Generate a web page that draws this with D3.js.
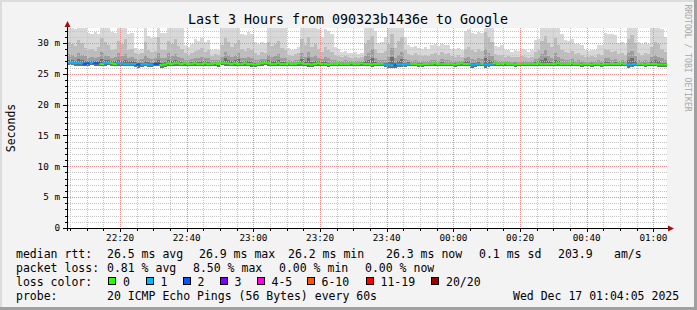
<!DOCTYPE html>
<html>
<head>
<meta charset="utf-8">
<script src="https://cdn.jsdelivr.net/npm/d3@7"></script>
<style>
  body { margin: 0; background: #f3f3f3; }
  text { font-family: "DejaVu Sans Mono", monospace; }
</style>
</head>
<body>
<div id="chart"></div>
<script>
// one value per 60 s step, 180 steps = last 3 hours (ms)
const median = [
  26.8, 26.8, 26.7, 26.8, 26.7, 26.6, 26.7, 26.8, 26.7, 26.7,
  26.6, 26.7, 26.8, 26.7, 26.6, 26.7, 26.7, 26.6, 26.6, 26.6,
  26.6, 26.5, 26.5, 26.6, 26.5, 26.5, 26.6, 26.6, 26.4, 26.5,
  26.7, 26.6, 26.7, 26.7, 26.6, 26.7, 26.6, 26.6, 26.7, 26.6,
  26.6, 26.7, 26.6, 26.6, 26.7, 26.6, 26.8, 26.7, 26.7, 26.6,
  26.7, 26.6, 26.6, 26.7, 26.6, 26.6, 26.5, 26.6, 26.7, 26.8,
  26.7, 26.6, 26.6, 26.7, 26.6, 26.6, 26.7, 26.6, 26.6, 26.7,
  26.7, 26.6, 26.6, 26.5, 26.6, 26.7, 26.6, 26.6, 26.5, 26.6,
  26.6, 26.7, 26.6, 26.6, 26.6, 26.7, 26.6, 26.6, 26.7, 26.6,
  26.6, 26.5, 26.6, 26.6, 26.6, 26.5, 26.5, 26.4, 26.4, 26.5,
  26.5, 26.5, 26.6, 26.6, 26.6, 26.5, 26.5, 26.6, 26.6, 26.6,
  26.7, 26.6, 26.6, 26.6, 26.6, 26.6, 26.5, 26.6, 26.7, 26.6,
  26.6, 26.5, 26.5, 26.6, 26.6, 26.5, 26.5, 26.6, 26.7, 26.6,
  26.6, 26.7, 26.6, 26.6, 26.5, 26.6, 26.6, 26.6, 26.6, 26.6,
  26.6, 26.7, 26.6, 26.6, 26.6, 26.6, 26.6, 26.7, 26.6, 26.6,
  26.6, 26.7, 26.6, 26.6, 26.5, 26.6, 26.6, 26.5, 26.6, 26.6,
  26.5, 26.6, 26.6, 26.6, 26.6, 26.6, 26.7, 26.6, 26.5, 26.5,
  26.6, 26.6, 26.6, 26.5, 26.6, 26.6, 26.6, 26.5, 26.5, 26.5
];

// lost pings (of 20) per step
const loss = [
  1, 1, 1, 1, 1, 2, 2, 1, 2, 2,
  0, 1, 1, 0, 0, 1, 1, 1, 1, 1,
  1, 2, 1, 1, 1, 1, 2, 2, 0, 0,
  0, 0, 0, 0, 0, 0, 0, 0, 0, 0,
  0, 0, 0, 0, 0, 0, 0, 0, 0, 0,
  0, 0, 0, 0, 0, 0, 0, 0, 0, 0,
  0, 0, 0, 0, 0, 0, 0, 0, 0, 0,
  0, 0, 0, 0, 0, 0, 0, 0, 0, 0,
  0, 0, 0, 0, 0, 0, 0, 0, 0, 0,
  0, 0, 0, 0, 0, 1, 1, 1, 2, 1,
  1, 1, 1, 0, 0, 0, 0, 0, 0, 0,
  0, 0, 0, 0, 0, 0, 0, 0, 0, 0,
  0, 1, 1, 1, 0, 1, 1, 1, 0, 0,
  0, 0, 0, 0, 0, 0, 0, 0, 0, 0,
  0, 0, 0, 0, 0, 0, 0, 0, 0, 0,
  0, 0, 0, 0, 0, 0, 0, 0, 0, 0,
  0, 0, 0, 0, 0, 0, 0, 0, 1, 1,
  1, 0, 0, 0, 0, 0, 0, 0, 0, 0
];

// smoke: spread of the sorted pings per step
const smokeMin = [
  26.4, 26.4, 26.3, 26.3, 26.2, 26.2, 26.3, 26.4, 26.3, 26.2,
  26.2, 26.3, 26.4, 26.3, 26.2, 26.3, 26.3, 26.2, 26.2, 26.2,
  26.1, 26.0, 26.1, 26.2, 26.1, 26.1, 26.2, 26.2, 26.0, 26.1,
  26.3, 26.2, 26.3, 26.2, 26.2, 26.3, 26.2, 26.2, 26.3, 26.2,
  26.2, 26.3, 26.2, 26.2, 26.3, 26.1, 26.4, 26.3, 26.2, 26.2,
  26.3, 26.2, 26.2, 26.3, 26.2, 26.1, 26.1, 26.2, 26.3, 26.4,
  26.3, 26.2, 26.2, 26.3, 26.2, 26.2, 26.3, 26.2, 26.2, 26.3,
  26.3, 26.2, 26.1, 26.1, 26.2, 26.3, 26.2, 26.2, 26.1, 26.2,
  26.2, 26.3, 26.2, 26.2, 26.2, 26.3, 26.2, 26.2, 26.3, 26.2,
  26.2, 26.1, 26.2, 26.2, 26.2, 26.1, 26.0, 26.0, 26.0, 26.1,
  26.1, 26.1, 26.2, 26.2, 26.2, 26.1, 26.1, 26.2, 26.2, 26.2,
  26.3, 26.2, 26.2, 26.2, 26.2, 26.2, 26.1, 26.2, 26.3, 26.2,
  26.2, 26.0, 26.1, 26.2, 26.2, 26.0, 26.1, 26.2, 26.3, 26.2,
  26.2, 26.3, 26.2, 26.2, 26.1, 26.2, 26.2, 26.2, 26.2, 26.2,
  26.2, 26.3, 26.2, 26.2, 26.2, 26.2, 26.2, 26.3, 26.2, 26.2,
  26.2, 26.3, 26.2, 26.2, 26.1, 26.2, 26.2, 26.1, 26.2, 26.2,
  26.1, 26.2, 26.2, 26.2, 26.2, 26.2, 26.3, 26.2, 26.0, 26.1,
  26.2, 26.2, 26.2, 26.1, 26.2, 26.2, 26.2, 26.1, 26.1, 26.1
];

const smokeP60 = [
  27.3, 27.2, 27.1, 27.4, 27.2, 27.0, 27.0, 27.1, 27.0, 27.1,
  27.4, 27.2, 27.2, 27.0, 27.0, 27.3, 27.1, 27.2, 27.0, 27.0,
  26.9, 26.8, 26.8, 27.1, 26.9, 26.8, 26.9, 27.3, 26.8, 26.9,
  27.3, 27.1, 27.2, 27.1, 26.9, 26.9, 26.8, 26.9, 27.0, 26.9,
  27.0, 27.0, 26.9, 26.8, 26.9, 26.8, 27.1, 27.5, 27.2, 27.0,
  27.2, 27.4, 26.9, 27.0, 27.0, 26.9, 26.8, 26.8, 27.0, 27.1,
  27.3, 27.0, 27.1, 27.3, 26.9, 26.9, 26.9, 26.8, 26.8, 26.9,
  27.4, 27.0, 27.5, 26.9, 27.1, 27.0, 26.9, 27.0, 26.8, 26.8,
  26.8, 26.9, 26.8, 26.8, 26.8, 26.9, 26.8, 26.8, 26.9, 27.1,
  27.3, 27.6, 26.9, 26.8, 26.8, 26.8, 26.9, 27.7, 26.8, 27.0,
  27.4, 26.8, 26.9, 26.8, 26.8, 26.7, 26.7, 26.8, 26.8, 26.8,
  26.9, 26.8, 26.9, 26.8, 26.8, 26.8, 26.7, 26.8, 26.9, 27.0,
  27.1, 26.8, 26.8, 26.9, 26.8, 27.6, 27.2, 27.0, 26.9, 26.8,
  26.8, 26.9, 26.8, 26.8, 26.7, 26.8, 26.8, 26.8, 26.8, 26.8,
  26.9, 27.0, 27.2, 27.5, 27.0, 26.9, 27.3, 27.0, 26.8, 26.8,
  26.8, 26.9, 26.8, 26.8, 26.7, 26.8, 26.8, 26.7, 26.8, 26.8,
  26.7, 27.0, 26.9, 26.8, 26.9, 26.8, 26.9, 26.8, 27.2, 27.5,
  27.1, 26.8, 26.8, 26.7, 26.8, 27.0, 27.2, 27.0, 26.8, 26.7
];

const smokeP75 = [
  28.2, 28.0, 27.8, 28.4, 28.1, 27.9, 27.6, 27.7, 27.5, 27.8,
  28.5, 28.1, 27.9, 27.6, 27.7, 28.3, 27.9, 28.2, 27.6, 27.7,
  27.4, 27.3, 27.4, 28.0, 27.6, 27.4, 27.5, 28.4, 27.5, 27.6,
  28.3, 27.9, 28.2, 27.8, 27.6, 27.3, 27.2, 27.4, 27.5, 27.6,
  27.7, 27.5, 27.6, 27.2, 27.3, 27.2, 27.8, 28.6, 28.1, 27.7,
  28.0, 28.4, 27.6, 27.5, 27.7, 27.5, 27.3, 27.2, 27.4, 27.4,
  28.1, 27.8, 27.9, 28.2, 27.6, 27.5, 27.2, 27.1, 27.3, 27.3,
  28.4, 27.8, 28.6, 27.7, 28.0, 27.5, 27.4, 27.7, 27.5, 27.3,
  27.2, 27.1, 27.1, 27.2, 27.0, 27.0, 27.1, 27.0, 27.1, 27.9,
  28.3, 29.0, 27.6, 27.2, 27.3, 27.3, 27.8, 29.2, 27.6, 28.1,
  28.6, 27.4, 27.2, 27.1, 27.2, 27.1, 27.0, 27.1, 27.0, 27.2,
  27.3, 27.1, 27.4, 27.2, 27.2, 27.0, 27.0, 27.1, 27.0, 27.6,
  27.8, 27.4, 27.3, 27.6, 27.4, 29.0, 28.4, 27.9, 27.2, 27.1,
  27.1, 27.0, 27.0, 26.9, 27.0, 26.9, 27.1, 27.0, 26.9, 27.0,
  27.4, 27.5, 28.2, 28.8, 27.9, 27.6, 28.3, 27.8, 27.4, 27.2,
  27.2, 27.4, 27.1, 27.2, 27.0, 26.9, 26.9, 27.0, 27.0, 27.2,
  27.1, 27.6, 27.5, 27.3, 27.4, 27.1, 27.2, 27.1, 28.3, 28.7,
  27.9, 27.2, 27.1, 27.2, 27.1, 27.7, 28.0, 27.8, 27.5, 27.3
];

const smokeP90 = [
  30.2, 29.8, 29.5, 30.5, 30.0, 29.2, 28.9, 29.0, 28.7, 29.3,
  30.8, 30.1, 29.6, 28.8, 29.0, 30.4, 29.9, 30.6, 28.9, 29.0,
  28.4, 28.2, 28.3, 30.1, 28.9, 28.6, 28.7, 30.9, 28.8, 28.9,
  30.3, 29.8, 30.7, 29.5, 29.1, 28.3, 28.1, 28.4, 28.7, 28.9,
  29.2, 28.6, 28.8, 27.9, 28.2, 28.0, 29.6, 30.8, 30.2, 29.4,
  29.9, 30.5, 29.0, 28.7, 29.2, 28.8, 28.3, 28.1, 28.5, 28.4,
  30.1, 29.5, 29.8, 30.4, 29.2, 28.9, 28.1, 27.9, 28.2, 28.3,
  30.6, 29.7, 30.9, 29.3, 29.9, 29.0, 28.6, 29.4, 28.9, 28.5,
  28.1, 27.9, 27.8, 27.9, 27.7, 27.6, 27.8, 27.6, 27.7, 29.8,
  30.5, 31.2, 29.0, 28.3, 28.4, 28.7, 29.9, 31.5, 29.2, 30.4,
  31.0, 28.8, 28.2, 28.1, 28.3, 28.0, 27.9, 28.1, 27.9, 28.2,
  28.4, 28.1, 28.5, 28.2, 28.3, 27.9, 27.8, 28.0, 27.8, 29.0,
  29.4, 28.8, 28.6, 29.1, 28.7, 31.8, 31.0, 30.2, 28.2, 28.0,
  28.1, 27.8, 27.9, 27.7, 27.8, 27.7, 27.9, 27.8, 27.6, 27.8,
  28.6, 28.8, 30.4, 31.1, 30.0, 29.4, 30.8, 29.6, 28.9, 28.5,
  28.4, 28.7, 28.2, 28.3, 28.1, 27.8, 27.7, 27.9, 27.8, 28.2,
  28.1, 29.0, 28.8, 28.6, 28.7, 28.2, 28.3, 28.1, 30.6, 31.3,
  30.0, 28.4, 28.1, 28.3, 28.2, 29.4, 30.2, 29.8, 29.1, 28.5
];

const smokeMax = [
  33.0, 33.0, 32.2, 33.0, 33.0, 33.0, 31.6, 31.4, 31.8, 31.5,
  33.0, 33.0, 32.5, 31.8, 31.6, 33.0, 33.0, 33.0, 31.5, 31.7,
  29.2, 28.8, 29.0, 33.0, 31.2, 30.8, 31.0, 33.0, 31.7, 31.6,
  33.0, 33.0, 33.0, 32.4, 33.0, 29.6, 29.3, 29.8, 30.6, 30.4,
  30.8, 30.2, 30.5, 28.9, 29.1, 28.8, 33.0, 33.0, 33.0, 32.6,
  33.0, 33.0, 31.5, 31.3, 31.8, 31.4, 30.1, 29.8, 30.2, 30.0,
  33.0, 33.0, 32.8, 33.0, 33.0, 32.4, 29.2, 28.8, 29.0, 29.3,
  33.0, 33.0, 33.0, 32.5, 33.0, 32.2, 31.0, 32.3, 32.0, 31.5,
  29.3, 29.0, 28.6, 28.7, 28.4, 28.3, 28.5, 28.2, 28.4, 33.0,
  33.0, 33.0, 32.0, 30.0, 30.2, 31.0, 33.0, 33.0, 32.5, 33.0,
  33.0, 31.0, 29.6, 29.4, 29.5, 29.2, 29.0, 29.3, 29.1, 29.7,
  29.8, 29.5, 29.9, 29.6, 29.7, 29.1, 29.0, 29.2, 28.9, 32.0,
  32.2, 31.7, 31.5, 31.8, 31.6, 33.0, 33.0, 33.0, 29.5, 29.4,
  29.6, 28.8, 28.9, 28.6, 28.8, 28.7, 29.0, 28.8, 28.6, 28.9,
  30.5, 30.6, 33.0, 33.0, 33.0, 32.6, 33.0, 33.0, 31.5, 30.5,
  30.4, 30.6, 29.8, 29.9, 29.7, 28.8, 28.7, 28.9, 28.8, 29.7,
  29.6, 31.6, 31.4, 31.5, 31.3, 30.0, 30.1, 29.9, 33.0, 33.0,
  32.8, 30.2, 29.8, 30.1, 29.9, 32.5, 33.0, 33.0, 32.3, 31.0
];

const lossLabels = ["0", "1", "2", "3", "4-5", "6-10", "11-19", "20/20"];
const lossUpper  = [0, 1, 2, 3, 5, 10, 19, 20];
const lossColors = ["#26ff00", "#00b8ff", "#0059ff", "#7e00ff", "#ff00ea", "#ff5500", "#ff0000", "#a10000"];

const yTicks = [0, 5, 10, 15, 20, 25, 30];

// time range of the graph
const startTime = new Date(2025, 11, 16, 22, 4, 5);
const endTime = new Date(2025, 11, 17, 1, 4, 5);
const stepSeconds = 60;

document.addEventListener('DOMContentLoaded', () => {
    const width = 697, height = 310;
    const plot = { left: 67, right: 667, top: 28, bottom: 228 };

    const svg = d3.select("#chart").append("svg")
        .attr("width", width)
        .attr("height", height)
        .style("display", "block");

    // background and shaded border
    svg.append("rect").attr("width", width).attr("height", height).attr("fill", "#f3f3f3");
    svg.append("rect").attr("x", 0).attr("y", 0).attr("width", width).attr("height", 2).attr("fill", "#dcdcdc");
    svg.append("rect").attr("x", 0).attr("y", 0).attr("width", 2).attr("height", height).attr("fill", "#dcdcdc");
    svg.append("rect").attr("x", 0).attr("y", height - 3).attr("width", width).attr("height", 3).attr("fill", "#a0a0a0");
    svg.append("rect").attr("x", width - 3).attr("y", 0).attr("width", 3).attr("height", height).attr("fill", "#a0a0a0");

    const x = d3.scaleTime().domain([startTime, endTime]).range([plot.left, plot.right]);
    const y = d3.scaleLinear().domain([0, 32.43]).range([plot.bottom, plot.top]);

    const defs = svg.append("defs");
    defs.append("clipPath").attr("id", "plotclip")
        .append("rect")
        .attr("x", plot.left).attr("y", plot.top)
        .attr("width", plot.right - plot.left).attr("height", plot.bottom - plot.top);

    // 1px on / 1px off dot patterns for the grid
    const minorColor = "#c4c4c4", majorColor = "#ef8a8a";
    [["h", 2, 1], ["v", 1, 2]].forEach(([dir, pw, ph]) => {
        [["minor", minorColor], ["major", majorColor]].forEach(([kind, color]) => {
            defs.append("pattern")
                .attr("id", `dots-${dir}-${kind}`)
                .attr("patternUnits", "userSpaceOnUse")
                .attr("width", pw).attr("height", ph)
                .append("rect").attr("width", 1).attr("height", 1).attr("fill", color);
        });
    });

    // canvas
    svg.append("rect")
        .attr("x", plot.left).attr("y", plot.top)
        .attr("width", plot.right - plot.left).attr("height", plot.bottom - plot.top)
        .attr("fill", "#ffffff");

    const t = i => new Date(startTime.getTime() + i * stepSeconds * 1000);

    // smoke layers, outermost (lightest) first
    const layers = [
        { lo: smokeMin, hi: smokeMax, color: "#d8d8d8" },
        { lo: smokeMin, hi: smokeP90, color: "#bcbcbc" },
        { lo: smokeMin, hi: smokeP75, color: "#9d9d9d" },
        { lo: smokeMin, hi: smokeP60, color: "#6e6e6e" }
    ];

    const smoke = svg.append("g").attr("clip-path", "url(#plotclip)");
    layers.forEach(layer => {
        smoke.append("g").selectAll("rect")
            .data(median)
            .enter()
            .append("rect")
            .attr("x", (d, i) => x(t(i)))
            .attr("width", (d, i) => x(t(i + 1)) - x(t(i)) + 0.01)
            .attr("y", (d, i) => y(layer.hi[i]))
            .attr("height", (d, i) => y(layer.lo[i]) - y(layer.hi[i]))
            .attr("fill", layer.color)
            .attr("shape-rendering", "crispEdges");
    });

    // dotted grid, drawn as 1px strips filled with dot patterns
    const grid = svg.append("g").attr("shape-rendering", "crispEdges");
    const minorTimes = d3.timeMinute.every(5).range(startTime, endTime);
    const majorTimes = d3.timeMinute.every(20).range(startTime, endTime);
    const pix = v => Math.round(v);

    const hLine = (v, kind) => grid.append("rect")
        .attr("x", plot.left + 1).attr("width", plot.right - plot.left - 1)
        .attr("y", pix(y(v))).attr("height", 1)
        .attr("fill", `url(#dots-h-${kind})`);
    const vLine = (d, kind) => grid.append("rect")
        .attr("x", pix(x(d))).attr("width", 1)
        .attr("y", plot.top).attr("height", plot.bottom - plot.top)
        .attr("fill", `url(#dots-v-${kind})`);

    d3.range(1, 33).filter(v => v % 5 !== 0).forEach(v => hLine(v, "minor"));
    minorTimes.filter(d => d.getMinutes() % 20 !== 0).forEach(d => vLine(d, "minor"));
    yTicks.filter(v => v > 0).forEach(v => hLine(v, "major"));
    majorTimes.forEach(d => vLine(d, "major"));

    // median rtt, coloured by loss
    const lossColor = n => lossColors[lossUpper.findIndex(u => n <= u)];
    svg.append("g").attr("clip-path", "url(#plotclip)")
        .selectAll("path")
        .data(median)
        .enter()
        .append("path")
        .attr("d", (d, i) => {
            const prev = i > 0 ? median[i - 1] : d;
            return `M${x(t(i))},${y(prev)}V${y(d)}H${x(t(i + 1))}`;
        })
        .attr("fill", "none")
        .attr("stroke", (d, i) => lossColor(loss[i]))
        .attr("stroke-width", 2);

    // axes
    const axis = svg.append("g").attr("shape-rendering", "crispEdges");
    axis.append("rect")
        .attr("x", plot.left).attr("width", 1)
        .attr("y", plot.top - 4).attr("height", plot.bottom - plot.top + 7)
        .attr("fill", "#000");
    axis.append("rect")
        .attr("x", plot.left - 4).attr("width", plot.right - plot.left + 6)
        .attr("y", plot.bottom).attr("height", 1)
        .attr("fill", "#000");
    svg.append("path")
        .attr("d", `M${plot.left - 2.5},${plot.top - 1}L${plot.left + 3.5},${plot.top - 1}L${plot.left + 0.5},${plot.top - 7}Z`)
        .attr("fill", "#a01010");
    svg.append("path")
        .attr("d", `M${plot.right + 1},${plot.bottom - 2.5}L${plot.right + 1},${plot.bottom + 3.5}L${plot.right + 7},${plot.bottom + 0.5}Z`)
        .attr("fill", "#a01010");

    // tick marks
    d3.range(1, 33).forEach(v => {
        const major = v % 5 === 0;
        axis.append("rect")
            .attr("x", plot.left - (major ? 4 : 2)).attr("width", major ? 4 : 2)
            .attr("y", pix(y(v))).attr("height", 1)
            .attr("fill", "#000");
    });
    minorTimes.forEach(d => {
        const major = d.getMinutes() % 20 === 0;
        axis.append("rect")
            .attr("x", pix(x(d))).attr("width", 1)
            .attr("y", plot.bottom + 1).attr("height", major ? 3 : 2)
            .attr("fill", "#000");
    });

    // tick labels
    svg.append("g").selectAll("text")
        .data(yTicks)
        .enter()
        .append("text")
        .attr("x", plot.left - 7)
        .attr("y", d => y(d))
        .attr("dy", "0.35em")
        .attr("text-anchor", "end")
        .style("font-size", "9.3px")
        .text(d => d === 0 ? "0" : `${d} m`);

    const timeFmt = d3.timeFormat("%H:%M");
    svg.append("g").selectAll("text")
        .data(majorTimes)
        .enter()
        .append("text")
        .attr("x", d => x(d))
        .attr("y", 241)
        .attr("text-anchor", "middle")
        .style("font-size", "9.3px")
        .text(d => timeFmt(d));

    // title and side texts
    svg.append("text")
        .attr("x", 348).attr("y", 23.5)
        .attr("text-anchor", "middle")
        .style("font-size", "13.3px")
        .text("Last 3 Hours from 090323b1436e to Google");

    svg.append("text")
        .attr("transform", `translate(15,${(plot.top + plot.bottom) / 2}) rotate(-90)`)
        .attr("text-anchor", "middle")
        .style("font-size", "11.5px")
        .text("Seconds");

    svg.append("text")
        .attr("transform", "translate(684.5,4.5) rotate(90)")
        .style("font-size", "8.1px")
        .attr("fill", "#a8a8a8")
        .text("RRDTOOL / TOBI OETIKER");

    // legend
    const legend = svg.append("g").style("font-size", "11.5px");
    const rows = [
        { y: 257.5, items: [[16, "median rtt:"], [107, "26.5 ms avg"], [199, "26.9 ms max"], [288, "26.2 ms min"],
                            [386, "26.3 ms now"], [479, "0.1 ms sd"], [558, "203.9"], [614, "am/s"]] },
        { y: 271.5, items: [[16, "packet loss:"], [107, "0.81 % avg"], [193, "8.50 % max"], [279, "0.00 % min"],
                            [365, "0.00 % now"]] },
        { y: 285.5, items: [[16, "loss color:"]] },
        { y: 299.5, items: [[16, "probe:"], [107, "20 ICMP Echo Pings (56 Bytes) every 60s"],
                            [513, "Wed Dec 17 01:04:05 2025"]] }
    ];
    rows.forEach(row => {
        row.items.forEach(([lx, txt]) => {
            legend.append("text").attr("x", lx).attr("y", row.y).attr("xml:space", "preserve").text(txt);
        });
    });

    const swatchX = [108, 145.5, 182.5, 219.5, 256.5, 306.5, 365.5, 431];
    lossLabels.forEach((lab, i) => {
        legend.append("rect")
            .attr("x", swatchX[i] + 0.5).attr("y", 277.5)
            .attr("width", 7).attr("height", 7)
            .attr("fill", lossColors[i])
            .attr("stroke", "#000")
            .attr("shape-rendering", "crispEdges");
        legend.append("text")
            .attr("x", swatchX[i] + 15).attr("y", 285.5)
            .text(lab);
    });
});
</script>
</body>
</html>
